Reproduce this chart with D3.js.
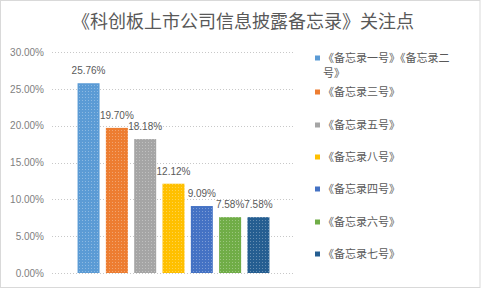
<!DOCTYPE html>
<html><head><meta charset="utf-8">
<script src="https://cdn.jsdelivr.net/npm/d3@7"></script>
<style>
html,body{margin:0;padding:0;background:#fff;}
svg{display:block;font-family:"Noto Sans CJK SC","Liberation Sans",sans-serif;}
</style></head>
<body>
<svg id="c" width="481" height="289"></svg>
<script>
const title = "《科创板上市公司信息披露备忘录》关注点";
const categories = ["《备忘录一号》《备忘录二号》","《备忘录三号》","《备忘录五号》","《备忘录八号》","《备忘录四号》","《备忘录六号》","《备忘录七号》"];
const legendLines = [["《备忘录一号》《备忘录二","号》"],["《备忘录三号》"],["《备忘录五号》"],["《备忘录八号》"],["《备忘录四号》"],["《备忘录六号》"],["《备忘录七号》"]];
const values = [0.2576,0.1970,0.1818,0.1212,0.0909,0.0758,0.0758];
const valueLabels = ["25.76%","19.70%","18.18%","12.12%","9.09%","7.58%","7.58%"];
const yTicks = [0,0.05,0.10,0.15,0.20,0.25,0.30];
const colors = ["#5B9BD5","#ED7D31","#A5A5A5","#FFC000","#4472C4","#70AD47","#255E91"];

const svg = d3.select("#c");
svg.append("rect").attr("x",0.5).attr("y",0.5).attr("width",479.5).attr("height",287).attr("fill","#fff").attr("stroke","#d9d9d9");

// patterns
const defs = svg.append("defs");
colors.forEach((c,i)=>{
  const p = defs.append("pattern").attr("id","p"+i).attr("patternUnits","userSpaceOnUse").attr("width",3).attr("height",3);
  p.append("rect").attr("width",3).attr("height",3).attr("fill",c);
  const light = d3.interpolateRgb(c,"#ffffff")(0.3);
  p.append("rect").attr("x",1).attr("y",1).attr("width",1).attr("height",1).attr("fill",light);
});

svg.append("text").attr("x",243).attr("y",28).attr("text-anchor","middle")
  .attr("font-size",18).attr("fill","#595959").text(title);

const y = d3.scaleLinear().domain([0,0.30]).range([273,52]);
const x = d3.scaleBand().domain(categories).range([74.4,272.6]).paddingInner(0.223).paddingOuter(0.1115);

const yAxis = d3.axisLeft(y).tickValues(yTicks).tickFormat(d3.format(".2%")).tickSize(0).tickPadding(8);
const gy = svg.append("g").attr("transform","translate(52,0)").call(yAxis);
gy.select(".domain").remove();
gy.selectAll("text").attr("font-size",10).attr("fill","#7f7f7f").attr("font-family","Liberation Sans, sans-serif");

svg.append("g").selectAll("line").data(yTicks).join("line")
  .attr("x1",52).attr("x2",295).attr("y1",d=>Math.round(y(d))+0.5).attr("y2",d=>Math.round(y(d))+0.5)
  .attr("stroke","#c8c8c8").attr("stroke-dasharray","1,2");

svg.append("g").selectAll("rect").data(values).join("rect")
  .attr("x",(d,i)=>x(categories[i])).attr("width",x.bandwidth())
  .attr("y",d=>y(d)).attr("height",d=>y(0)-y(d))
  .attr("fill",(d,i)=>"url(#p"+i+")");

svg.append("g").selectAll("text").data(values).join("text")
  .attr("x",(d,i)=>x(categories[i])+x.bandwidth()/2).attr("y",d=>y(d)-9)
  .attr("text-anchor","middle").attr("font-size",10).attr("fill","#595959")
  .attr("font-family","Liberation Sans, sans-serif")
  .text((d,i)=>valueLabels[i]);

const legY = [58,92,125,157,189,222,254];
const lg = svg.append("g");
legendLines.forEach((lines,i)=>{
  lg.append("rect").attr("x",315).attr("y",legY[i]-2.5).attr("width",5).attr("height",5).attr("fill",colors[i]);
  lines.forEach((t,j)=>{
    lg.append("text").attr("x",323).attr("y",legY[i]+4+j*15).attr("font-size",11).attr("fill","#595959").text(t);
  });
});
</script>
</body></html>
